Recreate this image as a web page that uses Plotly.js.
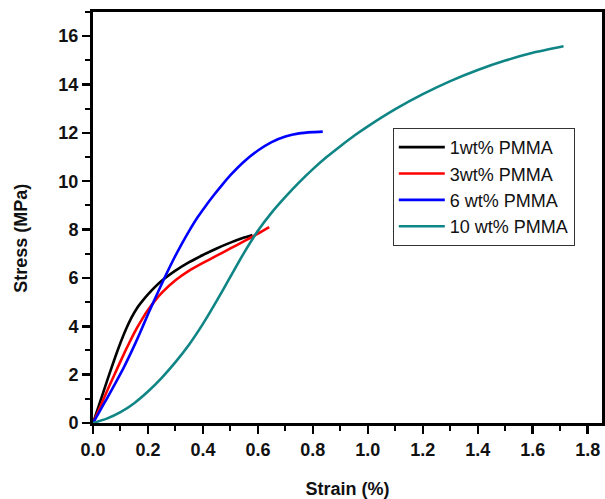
<!DOCTYPE html>
<html>
<head>
<meta charset="utf-8">
<script src="https://cdn.plot.ly/plotly-3.0.1.min.js"></script>
<style>html,body{margin:0;padding:0;background:#fff}#chart{width:605px;height:499px}</style>
</head>
<body>
<div id="chart"></div>
<script>
const seriesNames = ["1wt% PMMA", "3wt% PMMA", "6 wt% PMMA", "10 wt% PMMA"];
const seriesColors = ["#000000", "#ff0000", "#0000ff", "#108585"];

const strain1 = [0, 0.02, 0.04, 0.06, 0.08, 0.1, 0.12, 0.14, 0.16, 0.18, 0.2, 0.25, 0.3, 0.35, 0.4, 0.45, 0.5, 0.55, 0.58];
const stress1 = [0, 0.68, 1.36, 2.04, 2.7, 3.32, 3.88, 4.36, 4.75, 5.05, 5.32, 5.88, 6.3, 6.65, 6.95, 7.22, 7.46, 7.67, 7.78];

const strain3 = [0, 0.02, 0.04, 0.06, 0.08, 0.1, 0.12, 0.14, 0.16, 0.18, 0.2, 0.225, 0.25, 0.3, 0.35, 0.4, 0.45, 0.5, 0.55, 0.6, 0.641];
const stress3 = [0, 0.5, 1.03, 1.55, 2.05, 2.55, 3.04, 3.5, 3.93, 4.32, 4.67, 5.05, 5.38, 5.9, 6.3, 6.62, 6.92, 7.22, 7.52, 7.83, 8.1];

const strain6 = [0, 0.02, 0.05, 0.08, 0.11, 0.14, 0.17, 0.2, 0.23, 0.26, 0.29, 0.32, 0.35, 0.38, 0.41, 0.44, 0.47, 0.5, 0.55, 0.6, 0.65, 0.7, 0.75, 0.8, 0.836];
const stress6 = [0, 0.4, 1.0, 1.62, 2.25, 2.95, 3.7, 4.5, 5.25, 6.0, 6.7, 7.35, 7.95, 8.5, 8.98, 9.43, 9.85, 10.25, 10.82, 11.27, 11.62, 11.85, 11.98, 12.03, 12.05];

const strain10 = [0, 0.05, 0.1, 0.15, 0.2, 0.25, 0.3, 0.35, 0.4, 0.45, 0.5, 0.55, 0.6, 0.65, 0.7, 0.75, 0.8, 0.85, 0.9, 0.95, 1.0, 1.1, 1.2, 1.3, 1.4, 1.5, 1.6, 1.712];
const stress10 = [0, 0.18, 0.45, 0.82, 1.3, 1.87, 2.52, 3.25, 4.1, 5.05, 6.05, 7.05, 7.95, 8.7, 9.35, 9.95, 10.5, 11.0, 11.45, 11.88, 12.27, 12.98, 13.6, 14.14, 14.6, 14.99, 15.31, 15.58];

const xs = [strain1, strain3, strain6, strain10];
const ys = [stress1, stress3, stress6, stress10];

const traces = xs.map((x, i) => ({
  x: x, y: ys[i], name: seriesNames[i], type: 'scatter', mode: 'lines',
  line: {color: seriesColors[i], width: 2.6, shape: 'spline', smoothing: 0.6}
}));

const fam = 'Arial, Liberation Sans, sans-serif';
const tickFont = {family: fam, size: 18, color: '#111', weight: 700};
const layout = {
  width: 605, height: 499,
  margin: {l: 93, r: 3, t: 12, b: 76},
  paper_bgcolor: '#fff', plot_bgcolor: '#fff',
  showlegend: true,
  legend: {
    x: 0.589, y: 0.718, xanchor: 'left', yanchor: 'top',
    bgcolor: '#fff', bordercolor: '#333', borderwidth: 1,
    font: {family: fam, size: 18, color: '#111'},
    itemwidth: 46, tracegroupgap: 0
  },
  xaxis: {
    range: [0, 1.852], tick0: 0, dtick: 0.2, tickformat: '.1f',
    showgrid: false, zeroline: false,
    showline: true, linecolor: '#000', linewidth: 3, mirror: true,
    ticks: 'outside', ticklen: 8, tickwidth: 2.5, tickcolor: '#000',
    minor: {dtick: 0.1, ticks: 'outside', ticklen: 5, tickwidth: 2, tickcolor: '#000', showgrid: false},
    tickfont: tickFont,
    title: {text: 'Strain (%)', font: {family: fam, size: 18, color: '#111', weight: 700}, standoff: 24}
  },
  yaxis: {
    range: [0, 17], tick0: 0, dtick: 2,
    showgrid: false, zeroline: false,
    showline: true, linecolor: '#000', linewidth: 3, mirror: true,
    ticks: 'outside', ticklen: 8, tickwidth: 2.5, tickcolor: '#000',
    minor: {dtick: 1, ticks: 'outside', ticklen: 5, tickwidth: 2, tickcolor: '#000', showgrid: false},
    tickfont: tickFont
  },
  annotations: [{
    text: 'Stress (MPa)', textangle: -90, xref: 'paper', yref: 'paper',
    x: -0.142, y: 0.45, xanchor: 'center', yanchor: 'middle', showarrow: false,
    font: {family: fam, size: 18, color: '#111', weight: 700}
  }]
};

Plotly.newPlot('chart', traces, layout, {staticPlot: true, displayModeBar: false});
</script>
</body>
</html>
